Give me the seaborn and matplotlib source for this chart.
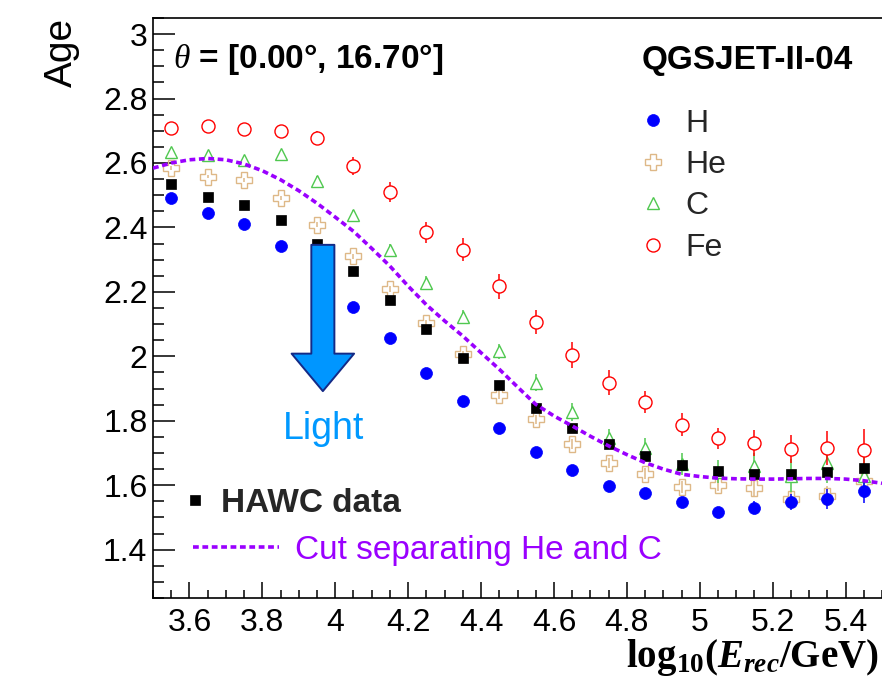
import matplotlib
matplotlib.use("Agg")
import matplotlib.pyplot as plt
import seaborn as sns
from matplotlib.lines import Line2D
from matplotlib.patches import FancyArrowPatch
from matplotlib.ticker import FixedLocator, MultipleLocator

# ---------------- data ----------------
energy = [3.55, 3.65, 3.75, 3.85, 3.95, 4.05, 4.15, 4.25, 4.35, 4.45,
          4.55, 4.65, 4.75, 4.85, 4.95, 5.05, 5.15, 5.25, 5.35, 5.45]

age_h = [2.490, 2.445, 2.410, 2.343, 2.250, 2.152, 2.057, 1.949, 1.861, 1.778,
         1.704, 1.647, 1.598, 1.577, 1.547, 1.516, 1.530, 1.547, 1.557, 1.582]
err_h = [0.005, 0.005, 0.005, 0.005, 0.005, 0.006, 0.006, 0.006, 0.007, 0.007,
         0.008, 0.008, 0.009, 0.010, 0.012, 0.015, 0.020, 0.025, 0.030, 0.038]

age_he = [2.584, 2.558, 2.547, 2.492, 2.408, 2.310, 2.209, 2.102, 2.006, 1.880,
          1.805, 1.727, 1.670, 1.636, 1.594, 1.602, 1.590, 1.558, 1.567, 1.612]
err_he = [0.006, 0.006, 0.006, 0.007, 0.008, 0.009, 0.010, 0.011, 0.012, 0.013,
          0.014, 0.015, 0.016, 0.017, 0.018, 0.020, 0.022, 0.025, 0.030, 0.035]

age_c = [2.635, 2.625, 2.610, 2.627, 2.545, 2.439, 2.331, 2.228, 2.123, 2.015,
         1.918, 1.828, 1.746, 1.716, 1.667, 1.642, 1.660, 1.630, 1.668, 1.628]
err_c = [0.010, 0.010, 0.010, 0.012, 0.014, 0.016, 0.018, 0.020, 0.022, 0.024,
         0.026, 0.028, 0.030, 0.032, 0.034, 0.036, 0.040, 0.050, 0.060, 0.067]

age_fe = [2.708, 2.715, 2.705, 2.698, 2.679, 2.592, 2.511, 2.385, 2.331, 2.217,
          2.107, 2.005, 1.918, 1.858, 1.788, 1.745, 1.730, 1.712, 1.715, 1.709]
err_fe = [0.015, 0.015, 0.015, 0.020, 0.021, 0.028, 0.031, 0.033, 0.035, 0.038,
          0.038, 0.040, 0.039, 0.034, 0.036, 0.034, 0.040, 0.044, 0.052, 0.067]

age_hawc = [2.535, 2.495, 2.471, 2.422, 2.350, 2.264, 2.174, 2.085, 1.996, 1.911,
            1.839, 1.778, 1.728, 1.690, 1.662, 1.644, 1.634, 1.634, 1.641, 1.653]
err_hawc = [0.003, 0.003, 0.003, 0.003, 0.003, 0.003, 0.003, 0.004, 0.004, 0.004,
            0.004, 0.005, 0.005, 0.005, 0.006, 0.006, 0.007, 0.008, 0.009, 0.010]

cut_x = [3.50, 3.55, 3.60, 3.65, 3.70, 3.75, 3.80, 3.85, 3.90, 3.95, 4.00,
         4.05, 4.10, 4.15, 4.20, 4.25, 4.30, 4.35, 4.40, 4.45, 4.50, 4.55,
         4.60, 4.65, 4.70, 4.75, 4.80, 4.85, 4.90, 4.95, 5.00, 5.05, 5.10,
         5.15, 5.20, 5.25, 5.30, 5.35, 5.40, 5.45, 5.50]
cut_age = [2.584, 2.600, 2.610, 2.614, 2.610, 2.597, 2.576, 2.548, 2.514, 2.475, 2.432,
           2.388, 2.335, 2.280, 2.218, 2.160, 2.110, 2.063, 2.011, 1.960, 1.905, 1.851,
           1.815, 1.784, 1.752, 1.722, 1.695, 1.670, 1.650, 1.634, 1.627, 1.622, 1.620,
           1.619, 1.619, 1.620, 1.621, 1.621, 1.619, 1.614, 1.606]

x_ticks = [3.6, 3.8, 4.0, 4.2, 4.4, 4.6, 4.8, 5.0, 5.2, 5.4]
x_tick_labels = ["3.6", "3.8", "4", "4.2", "4.4", "4.6", "4.8", "5", "5.2", "5.4"]
y_ticks = [1.4, 1.6, 1.8, 2.0, 2.2, 2.4, 2.6, 2.8, 3.0]
y_tick_labels = ["1.4", "1.6", "1.8", "2", "2.2", "2.4", "2.6", "2.8", "3"]

series_labels = ["H", "He", "C", "Fe"]

# ---------------- style ----------------
sns.set_style("ticks")
plt.rcParams["font.family"] = ["Liberation Sans", "DejaVu Sans"]
plt.rcParams["mathtext.fontset"] = "custom"
plt.rcParams["mathtext.rm"] = "Liberation Serif:bold"
plt.rcParams["mathtext.it"] = "Liberation Serif:italic"
plt.rcParams["mathtext.bf"] = "Liberation Serif:bold:italic"

C_H = "#0000ff"
C_HE = "#deb887"
C_C = "#50c850"
C_FE = "#ff0000"
C_CUT = "#9a00ff"
C_LIGHT = "#0099ff"

W, H = 882, 687
fig = plt.figure(figsize=(W / 100, H / 100), dpi=100)
ax = fig.add_axes([153 / W, 1 - 598 / H, 1 - 153 / W, (598 - 18) / H])

styles = {
    "H": dict(marker="o", markersize=8.6, markerfacecolor=C_H, markeredgecolor=C_H,
              markeredgewidth=0.5, color=C_H),
    "He": dict(marker="P", markersize=11.3, markerfacecolor="none", markeredgecolor=C_HE,
               markeredgewidth=1.0, color=C_HE),
    "C": dict(marker="^", markersize=9.2, markerfacecolor="white", markeredgecolor=C_C,
              markeredgewidth=1.0, color=C_C),
    "Fe": dict(marker="o", markersize=9.4, markerfacecolor="white", markeredgecolor=C_FE,
               markeredgewidth=1.0, color=C_FE),
    "HAWC": dict(marker="s", markersize=7.2, markerfacecolor="black", markeredgecolor="black",
                 markeredgewidth=0.5, color="black"),
}
cut_style = dict(color=C_CUT, linewidth=2.6, linestyle=(0, (1.6, 1.0)))

# draw order: He, C, Fe, H, HAWC (H dots sit over He crosses as in the reference)
series = [
    ("He", age_he, err_he, C_HE, 3.0),
    ("C", age_c, err_c, C_C, 3.1),
    ("Fe", age_fe, err_fe, C_FE, 3.2),
    ("H", age_h, err_h, C_H, 3.3),
    ("HAWC", age_hawc, err_hawc, "black", 3.4),
]

for name, ages, errs, col, z in series:
    ax.errorbar(energy, ages, yerr=errs, fmt="none", ecolor=col, elinewidth=1.1,
                capsize=0, zorder=z - 0.05)
    sns.lineplot(x=energy, y=ages, ax=ax, estimator=None, sort=False,
                 linestyle="none", zorder=z, **styles[name])

sns.lineplot(x=cut_x, y=cut_age, ax=ax, estimator=None, sort=False, zorder=4, **cut_style)

# ---------------- axes ----------------
ax.set_xlim(3.5, 5.5)
ax.set_ylim(1.25, 3.05)
ax.xaxis.set_major_locator(FixedLocator(x_ticks))
ax.set_xticklabels(x_tick_labels)
ax.yaxis.set_major_locator(FixedLocator(y_ticks))
ax.set_yticklabels(y_tick_labels)
ax.xaxis.set_minor_locator(MultipleLocator(0.05))
ax.yaxis.set_minor_locator(MultipleLocator(0.05))
ax.tick_params(axis="both", which="both", direction="in", width=1.1, color="black",
               labelsize=23, labelcolor="black")
ax.tick_params(axis="y", which="major", length=15.8, pad=4)
ax.tick_params(axis="y", which="minor", length=7.9)
ax.tick_params(axis="x", which="major", length=11.5, pad=7)
ax.tick_params(axis="x", which="minor", length=5.8)
for s in ["left", "bottom", "top"]:
    ax.spines[s].set_visible(True)
    ax.spines[s].set_linewidth(1.2)
    ax.spines[s].set_color("black")
ax.spines["right"].set_visible(False)
ax.set_xlabel("")
ax.set_ylabel("")
ax.grid(False)

# axis titles
fig.text(879 / W, 1 - 667 / H, r"$\mathrm{log_{10}(}\mathbf{E_{rec}}\mathrm{/GeV)}$",
         ha="right", va="baseline", fontsize=28, color="black")
fig.text(62 / W, 1 - 18 / H, "Age", rotation=90, ha="center", va="top",
         fontsize=28, color="black")

# annotations
ax.text((173 - 153) / 729, (598 - 68) / 580, r"$\theta$ = [0.00°, 16.70°]",
        transform=ax.transAxes, fontsize=24, fontweight="bold", ha="left",
        va="baseline", color="black")
ax.text((642 - 153) / 729, (598 - 69) / 580, "QGSJET-II-04",
        transform=ax.transAxes, fontsize=24, fontweight="bold", ha="left",
        va="baseline", color="black")

arrow = FancyArrowPatch(posA=(3.966, 2.346), posB=(3.966, 1.892),
                        arrowstyle="simple,head_length=27,head_width=45,tail_width=16.6",
                        mutation_scale=1, shrinkA=0, shrinkB=0,
                        facecolor="#0096ff", edgecolor="#142a86", linewidth=1.4,
                        zorder=6)
ax.add_patch(arrow)
ax.text(3.967, 1.774, "Light", fontsize=27, color=C_LIGHT, ha="center", va="center",
        zorder=6)

# legend: simulated primaries
handles = [Line2D([], [], linestyle="none", **styles[n]) for n in series_labels]
leg1 = ax.legend(handles, series_labels, loc="upper left",
                 bbox_to_anchor=((637 - 153) / 729, (598 - 108.5) / 580),
                 frameon=False, borderpad=0, borderaxespad=0, handlelength=1.0,
                 handletextpad=0.5, labelspacing=0.36, prop={"size": 23})
ax.add_artist(leg1)

# legend: HAWC data
leg2 = ax.legend([Line2D([], [], linestyle="none", **styles["HAWC"])], ["HAWC data"],
                 loc="center left", bbox_to_anchor=((187 - 153) / 729, (598 - 503) / 580),
                 frameon=False, borderpad=0, borderaxespad=0, handlelength=0.5,
                 handletextpad=0.53, prop={"size": 24, "weight": "bold"})
ax.add_artist(leg2)

# legend: cut line
leg3 = ax.legend([Line2D([], [], **cut_style)], ["Cut separating He and C"],
                 loc="center left", bbox_to_anchor=((193 - 153) / 729, (598 - 550) / 580),
                 frameon=False, borderpad=0, borderaxespad=0, handlelength=2.57,
                 handletextpad=0.5, prop={"size": 24}, labelcolor=C_CUT)

fig.savefig("out.png", dpi=100)
